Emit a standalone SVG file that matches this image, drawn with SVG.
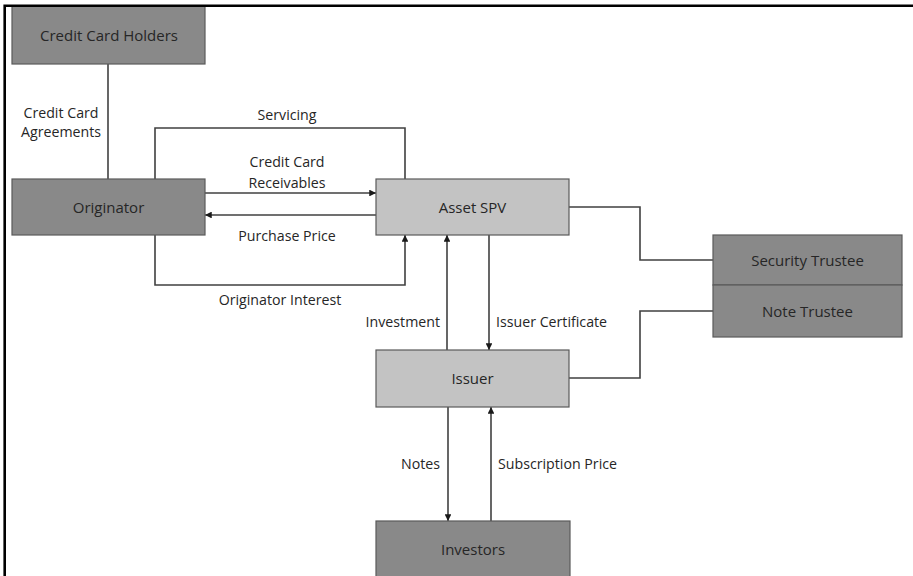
<svg xmlns="http://www.w3.org/2000/svg" width="913" height="576" viewBox="0 0 913 576">
  <style>
    .dark { fill: #898989; stroke: #5a5a5a; stroke-width: 1.2; }
    .light { fill: #c3c3c3; stroke: #5a5a5a; stroke-width: 1.2; }
    .lbl { font-family: "Open Sans", "Liberation Sans", sans-serif; font-size: 14.2px; fill: #262626; }
    .box { font-family: "Open Sans", "Liberation Sans", sans-serif; font-size: 15px; fill: #262626; text-anchor: middle; }
    .wire { fill: none; stroke: #404040; stroke-width: 1.6; }
    .arrow { fill: none; stroke: #404040; stroke-width: 1.6; marker-end: url(#head); }
  </style>
  <defs>
    <marker id="head" viewBox="0 0 10 10" refX="10" refY="5" markerWidth="4.2" markerHeight="4.2" markerUnits="strokeWidth" orient="auto">
      <path d="M0,0 L10,5 L0,10 Z" fill="#1a1a1a"/>
    </marker>
  </defs>

  <rect width="913" height="576" fill="#ffffff"/>

  <!-- connectors -->
  <g id="connectors">
    <path class="wire" d="M108,64 V179"/>
    <path class="wire" d="M155,179 V128 H405 V179"/>
    <path class="arrow" d="M205,193 H376"/>
    <path class="arrow" d="M376,215 H205"/>
    <path class="arrow" d="M155,235 V285 H405 V235"/>
    <path class="arrow" d="M447,350 V235"/>
    <path class="arrow" d="M489,235 V350"/>
    <path class="arrow" d="M448,407 V521"/>
    <path class="arrow" d="M491,521 V407"/>
    <path class="wire" d="M569,207 H640 V260 H713"/>
    <path class="wire" d="M569,378 H640 V311 H713"/>

    <text class="lbl" x="61" y="118" text-anchor="middle">Credit Card</text>
    <text class="lbl" x="61" y="137" text-anchor="middle">Agreements</text>
    <text class="lbl" x="287" y="120" text-anchor="middle">Servicing</text>
    <text class="lbl" x="287" y="167" text-anchor="middle">Credit Card</text>
    <text class="lbl" x="287" y="188" text-anchor="middle">Receivables</text>
    <text class="lbl" x="287" y="241" text-anchor="middle">Purchase Price</text>
    <text class="lbl" x="280" y="305" text-anchor="middle">Originator Interest</text>
    <text class="lbl" x="440" y="327" text-anchor="end">Investment</text>
    <text class="lbl" x="496" y="327">Issuer Certificate</text>
    <text class="lbl" x="440" y="469" text-anchor="end">Notes</text>
    <text class="lbl" x="498" y="469">Subscription Price</text>
  </g>

  <!-- nodes -->
  <g id="credit-card-holders">
    <rect class="dark" x="12" y="6" width="193" height="58"/>
    <text class="box" x="109" y="41">Credit Card Holders</text>
  </g>
  <g id="originator">
    <rect class="dark" x="12" y="179" width="193" height="56"/>
    <text class="box" x="108.5" y="213">Originator</text>
  </g>
  <g id="asset-spv">
    <rect class="light" x="376" y="179" width="193" height="56"/>
    <text class="box" x="472.5" y="213">Asset SPV</text>
  </g>
  <g id="issuer">
    <rect class="light" x="376" y="350" width="193" height="57"/>
    <text class="box" x="472.5" y="384">Issuer</text>
  </g>
  <g id="investors">
    <rect class="dark" x="376" y="521" width="194" height="70"/>
    <text class="box" x="473" y="555">Investors</text>
  </g>
  <g id="security-trustee">
    <rect class="dark" x="713" y="235" width="189" height="50"/>
    <text class="box" x="807.5" y="266">Security Trustee</text>
  </g>
  <g id="note-trustee">
    <rect class="dark" x="713" y="285" width="189" height="52"/>
    <text class="box" x="807.5" y="317">Note Trustee</text>
  </g>

  <!-- frame -->
  <path d="M4.7,580 V5.8 H920" fill="none" stroke="#000000" stroke-width="2.6"/>
</svg>
